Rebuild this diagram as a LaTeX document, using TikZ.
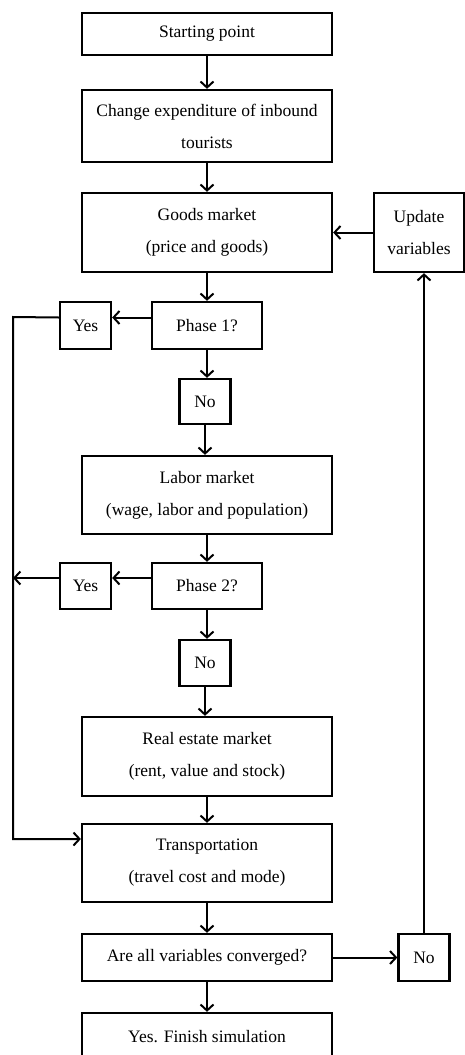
\documentclass[tikz,border=0pt]{standalone}
\usepackage{fontspec}
\setmainfont{Liberation Serif}
\usetikzlibrary{arrows.meta}

\begin{document}
\begin{tikzpicture}[x=1pt,y=-1pt,
    box/.style={draw,line width=2.3pt,align=center,inner sep=2pt,
        font=\fontsize{17.5}{32}\selectfont},
    arr/.style={line width=2pt,-{Straight Barb[length=6pt,width=13pt,line width=2pt]}}]
\useasboundingbox (0,0) rectangle (465,1055);
% main column
\node[box,minimum width=250,minimum height=42] (start) at (207,34) {Starting point};
\node[box,minimum width=250,minimum height=72] (change) at (207,126) {Change expenditure of inbound\\tourists};
\node[box,minimum width=250,minimum height=79] (goods) at (207,232.5) {Goods market\\(price and goods)};
\node[box,minimum width=90,minimum height=79] (update) at (419,232.5) {Update\\variables};
\node[box,minimum width=110,minimum height=47] (phase1) at (207,325.5) {Phase 1?};
\node[box,minimum width=51,minimum height=47] (yes1) at (85.5,325.5) {Yes};
\node[box,minimum width=51,minimum height=45] (no1) at (205,401.5) {No};
\node[box,minimum width=250,minimum height=78] (labor) at (207,495) {Labor market\\(wage, labor and population)};
\node[box,minimum width=110,minimum height=46] (phase2) at (207,586) {Phase 2?};
\node[box,minimum width=51,minimum height=46] (yes2) at (85.5,586) {Yes};
\node[box,minimum width=51,minimum height=46] (no2) at (205,663) {No};
\node[box,minimum width=250,minimum height=79] (estate) at (207,756.5) {Real estate market\\(rent, value and stock)};
\node[box,minimum width=250,minimum height=78] (transport) at (207,863) {Transportation\\(travel cost and mode)};
\node[box,minimum width=250,minimum height=47] (conv) at (207,957.5) {Are all variables converged?};
\node[box,minimum width=51,minimum height=47] (no3) at (424,957.5) {No};
\node[box,minimum width=250,minimum height=47] (finish) at (207,1036.5) {Yes. Finish simulation};
% bypass line on the left
\coordinate (busA) at (13,317);
\coordinate (busB) at (13,578);
% arrows
\draw[arr] (start) -- (change);
\draw[arr] (change) -- (goods);
\draw[arr] (goods) -- (phase1);
\draw[arr] (phase1) -- (no1.north -| phase1.south);
\draw[arr] (no1) -- (labor.north -| no1.south);
\draw[arr] (labor) -- (phase2);
\draw[arr] (phase2) -- (no2.north -| phase2.south);
\draw[arr] (no2) -- (estate.north -| no2.south);
\draw[arr] (estate) -- (transport);
\draw[arr] (transport) -- (conv);
\draw[arr] (conv) -- (finish);
\draw[arr] ([yshift=8pt]phase1.west) -- ([yshift=8pt]yes1.east);
\draw[arr] ([yshift=8pt]phase2.west) -- ([yshift=8pt]yes2.east);
\draw[arr] ([yshift=8pt]yes1.west) -- (busA) |- ([yshift=24pt]transport.west);
\draw[arr] ([yshift=8pt]yes2.west) -- (busB);
\draw[arr] (conv) -- (no3);
\draw[arr] (no3) -- (no3.north |- update.south);
\draw[arr] (update) -- (goods);
\end{tikzpicture}
\end{document}
